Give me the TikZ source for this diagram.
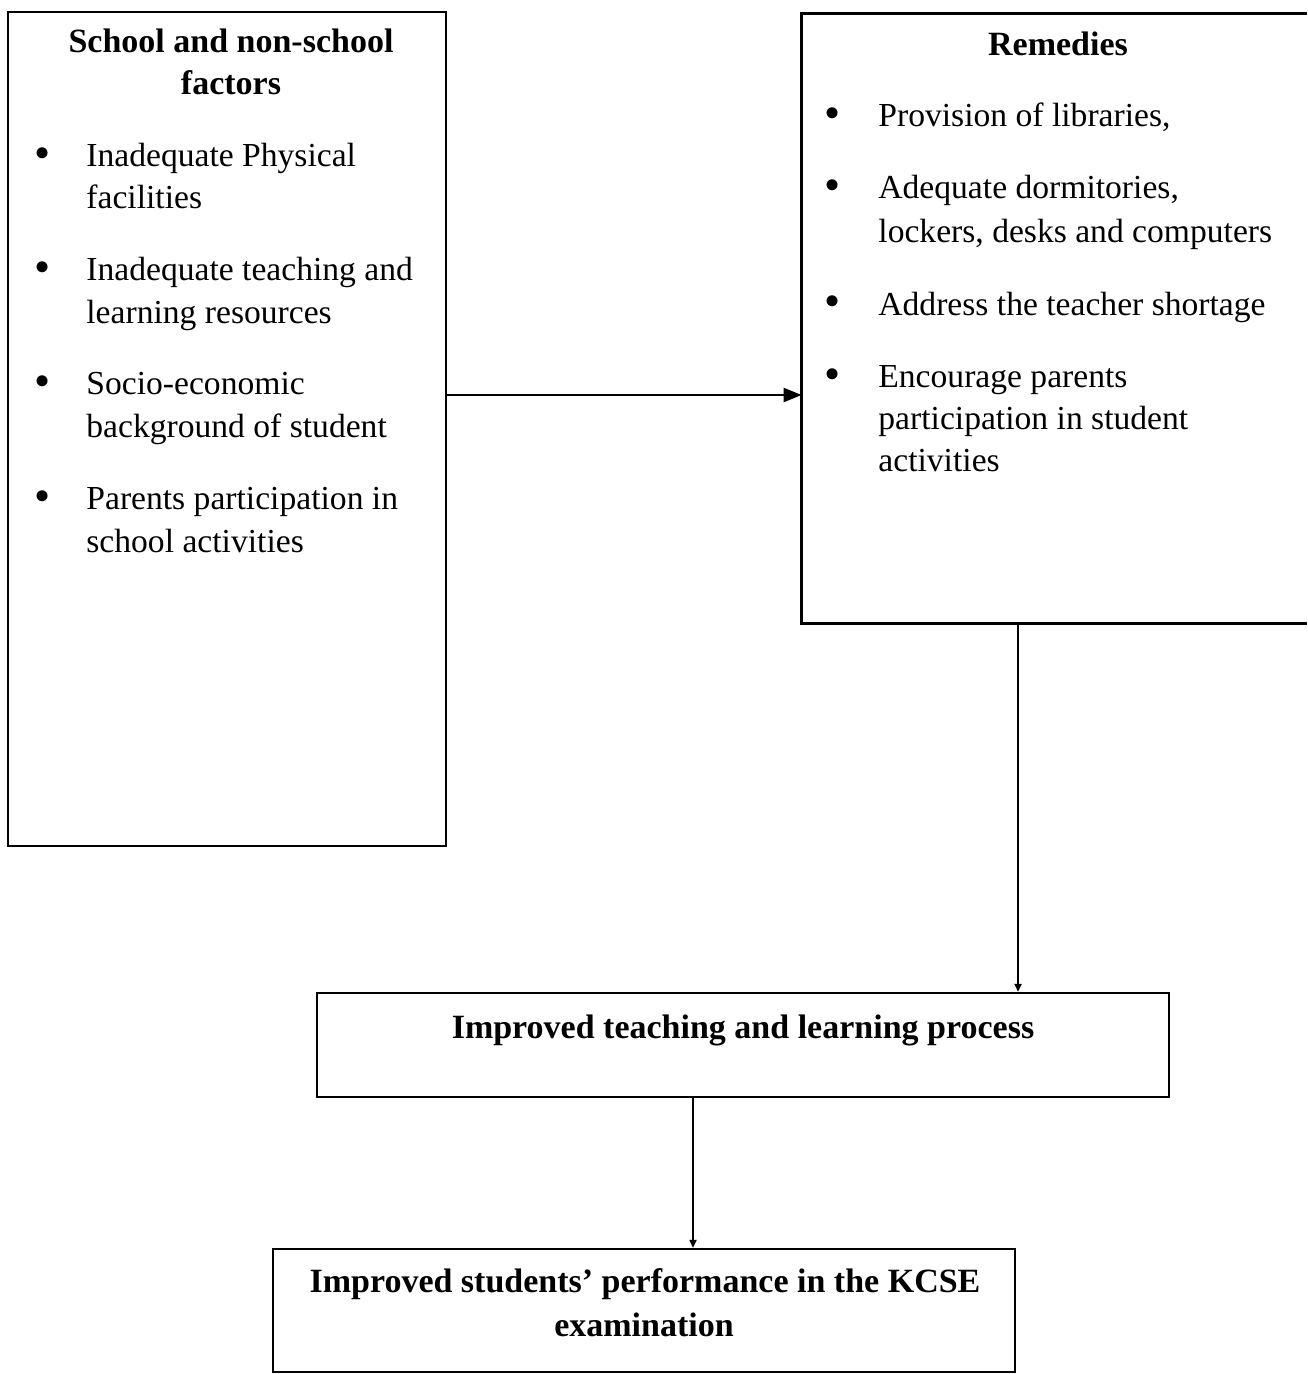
\documentclass[tikz,border=0pt]{standalone}
\usepackage{fontspec}
\setmainfont{Liberation Serif}
\usetikzlibrary{arrows.meta,fit}
\begin{document}
\begin{tikzpicture}[x=0.5pt,y=-0.5pt,
  box/.style={draw,line width=1.2pt,inner sep=0pt},
  openbox/.style={draw=none,inner sep=0pt},
  edge/.style={line width=1.2pt},
  txt/.style={anchor=base west,inner sep=0pt,font=\fontsize{16.8}{21}\selectfont},
  head/.style={anchor=base,inner sep=0pt,font=\fontsize{17}{21}\selectfont\bfseries},
  bul/.style={anchor=base,inner sep=0pt,font=\fontsize{23}{23}\selectfont},
  bigarr/.style={-{Triangle[length=9pt,width=7pt]}},
  smallarr/.style={-{Triangle[length=4pt,width=3.5pt]}}]
\useasboundingbox (0,0) rectangle (1307,1374);
% boxes
\node[box,fit={(8,12)(446,846)}] (L) {};
\node[openbox,fit={(802,14)(1307,623)}] (R) {};
\draw[edge] (R.north east) -- (R.north west) -- (R.south west) -- (R.south east);
\node[box,fit={(317,993)(1169,1097)}] (M) {};
\node[box,fit={(273,1249)(1015,1372)}] (B) {};
% left box text
\node[head] (lh1) at (231,53) {School and non-school};
\node[head] (lh2) at (231,95) {factors};
\node[bul] (lb1) at (43,169) {•};
\node[txt] (l1a) at (86,167) {Inadequate Physical};
\node[txt] (l1b) at (86,209) {facilities};
\node[bul] (lb2) at (43,283) {•};
\node[txt] (l2a) at (86,281) {Inadequate teaching and};
\node[txt] (l2b) at (86,323) {learning resources};
\node[bul] (lb3) at (43,396) {•};
\node[txt] (l3a) at (86,394) {Socio-economic};
\node[txt] (l3b) at (86,437) {background of student};
\node[bul] (lb4) at (43,511) {•};
\node[txt] (l4a) at (86,509) {Parents participation in};
\node[txt] (l4b) at (86,552) {school activities};
% right box text
\node[head] (rh) at (1058,56) {Remedies};
\node[bul] (rb1) at (833,129) {•};
\node[txt] (r1a) at (878,127) {Provision of libraries,};
\node[bul] (rb2) at (833,201) {•};
\node[txt] (r2a) at (878,199) {Adequate dormitories,};
\node[txt] (r2b) at (878,243) {lockers, desks and computers};
\node[bul] (rb3) at (833,317) {•};
\node[txt] (r3a) at (878,315) {Address the teacher shortage};
\node[bul] (rb4) at (833,389) {•};
\node[txt] (r4a) at (878,387) {Encourage parents};
\node[txt] (r4b) at (878,429) {participation in student};
\node[txt] (r4c) at (878,471) {activities};
% middle and bottom text
\node[head] (mt) at (743,1038) {Improved teaching and learning process};
\node[head] (bt1) at (645,1292) {Improved students’ performance in the KCSE};
\node[head] (bt2) at (644,1336) {examination};
% connectors
\coordinate (ay) at (0,395);
\coordinate (vx1) at (1018,0);
\coordinate (vx2) at (693,0);
\draw[edge,bigarr] (L.east |- ay) -- (R.west |- ay);
\draw[edge,smallarr] (R.south -| vx1) -- (M.north -| vx1);
\draw[edge,smallarr] (M.south -| vx2) -- (B.north -| vx2);
\end{tikzpicture}
\end{document}
